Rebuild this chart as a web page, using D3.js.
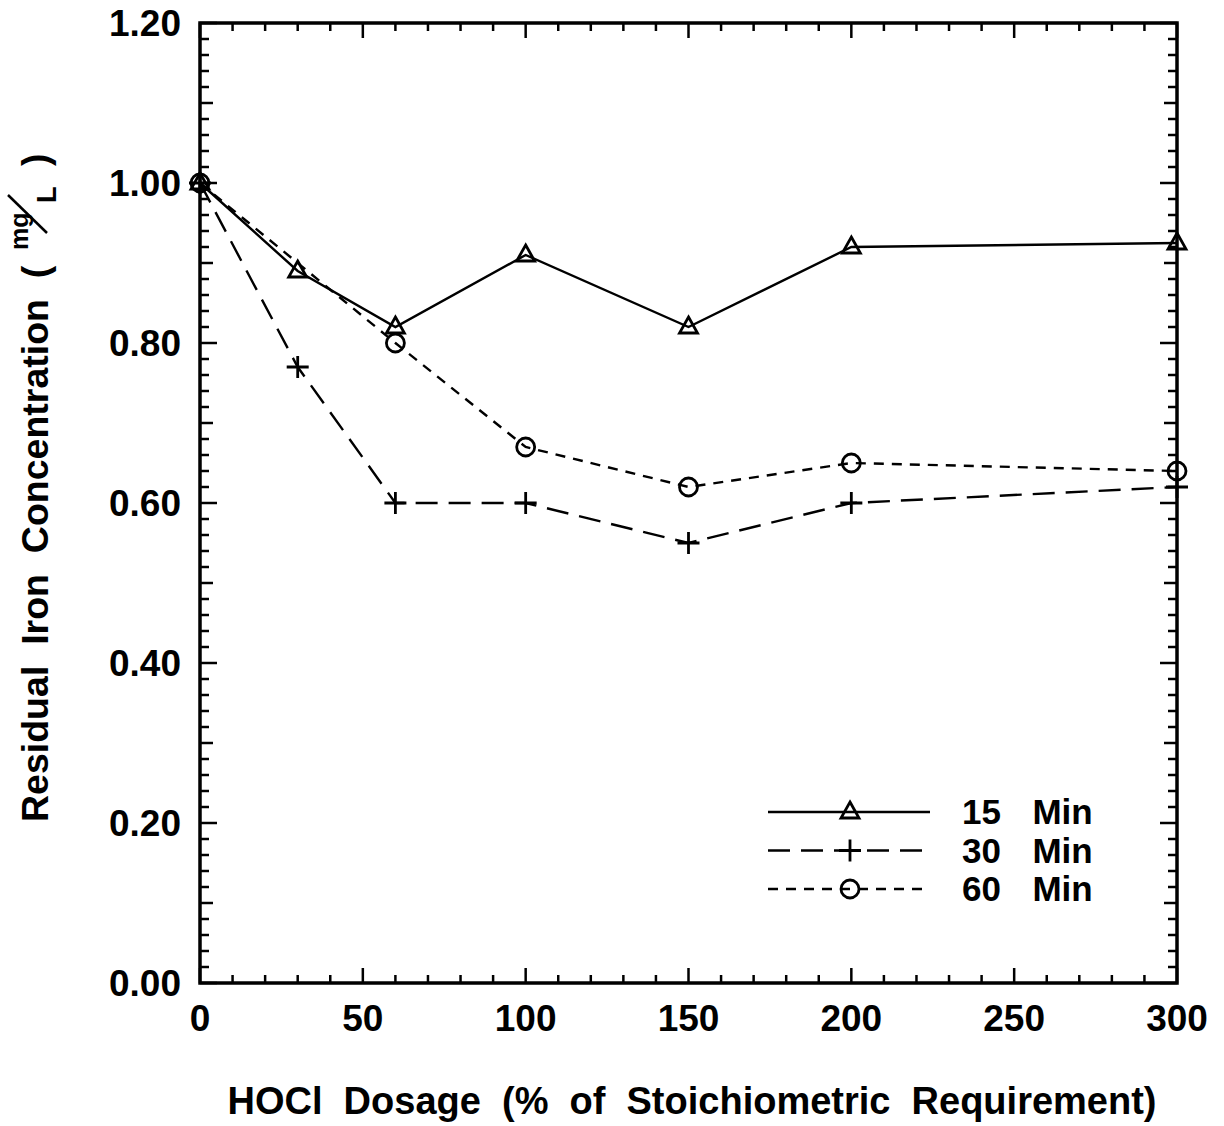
<!DOCTYPE html>
<html>
<head>
<meta charset="utf-8">
<script src="https://cdn.jsdelivr.net/npm/d3@7"></script>
<style>
  body { margin: 0; background: #fff; }
  text { font-family: "Liberation Sans", Arial, Helvetica, sans-serif; font-weight: bold; fill: #000; white-space: pre; }
</style>
</head>
<body>
<svg id="chart" width="1224" height="1126"></svg>
<script>
/* Residual iron vs HOCl dosage */

var dosage15 = [0, 30, 60, 100, 150, 200, 300];
var iron15 = [1.00, 0.89, 0.82, 0.91, 0.82, 0.92, 0.925];

var dosage30 = [0, 30, 60, 100, 150, 200, 300];
var iron30 = [1.00, 0.77, 0.60, 0.60, 0.55, 0.60, 0.62];

var dosage60 = [0, 60, 100, 150, 200, 300];
var iron60 = [1.00, 0.80, 0.67, 0.62, 0.65, 0.64];

var seriesNames = ["15  Min", "30  Min", "60  Min"];
var xTickLabels = [0, 50, 100, 150, 200, 250, 300];
var yTickLabels = [0.00, 0.20, 0.40, 0.60, 0.80, 1.00, 1.20];

function toPoints(xs, ys) {
  return xs.map(function (x, i) { return { x: x, y: ys[i] }; });
}

var series = [
  { name: seriesNames[0], points: toPoints(dosage15, iron15), dash: null, marker: "triangle" },
  { name: seriesNames[1], points: toPoints(dosage30, iron30), dash: "22,11", marker: "plus" },
  { name: seriesNames[2], points: toPoints(dosage60, iron60), dash: "10,8", marker: "circle" }
];

var plotLeft = 200, plotRight = 1177, plotTop = 23, plotBottom = 983;

var svg = d3.select("#chart");

var xScale = d3.scaleLinear().domain([0, 300]).range([plotLeft, plotRight]);
var yScale = d3.scaleLinear().domain([0, 1.2]).range([plotBottom, plotTop]);

var axes = svg.append("g").attr("stroke", "#000").attr("stroke-width", 2.5);

// x ticks, inward on top and bottom
d3.range(0, 301, 10).forEach(function (v) {
  var len = v % 50 === 0 ? 15 : 8;
  axes.append("line").attr("x1", xScale(v)).attr("x2", xScale(v))
    .attr("y1", plotBottom).attr("y2", plotBottom - len);
  axes.append("line").attr("x1", xScale(v)).attr("x2", xScale(v))
    .attr("y1", plotTop).attr("y2", plotTop + len);
});

// y ticks, inward on left and right
d3.range(0, 61, 1).forEach(function (k) {
  var v = k * 0.02;
  var len = k % 10 === 0 ? 17 : (k % 5 === 0 ? 13 : 9);
  axes.append("line").attr("y1", yScale(v)).attr("y2", yScale(v))
    .attr("x1", plotLeft).attr("x2", plotLeft + len);
  axes.append("line").attr("y1", yScale(v)).attr("y2", yScale(v))
    .attr("x1", plotRight).attr("x2", plotRight - len);
});

svg.append("rect")
  .attr("x", plotLeft).attr("y", plotTop)
  .attr("width", plotRight - plotLeft).attr("height", plotBottom - plotTop)
  .attr("fill", "none").attr("stroke", "#000").attr("stroke-width", 3.5);

// tick labels
svg.selectAll(".xlab").data(xTickLabels).enter().append("text")
  .attr("x", function (d) { return xScale(d); })
  .attr("y", 1031)
  .attr("text-anchor", "middle")
  .style("font-size", "37px")
  .text(function (d) { return d; });

svg.selectAll(".ylab").data(yTickLabels).enter().append("text")
  .attr("x", 181)
  .attr("y", function (d) { return yScale(d) + 13; })
  .attr("text-anchor", "end")
  .style("font-size", "37px")
  .text(function (d) { return d.toFixed(2); });

// lines
var line = d3.line()
  .x(function (d) { return xScale(d.x); })
  .y(function (d) { return yScale(d.y); });

function drawMarker(g, type, cx, cy) {
  if (type === "triangle") {
    g.append("path")
      .attr("d", "M" + cx + "," + (cy - 10) + "L" + (cx + 9) + "," + (cy + 6) + "L" + (cx - 9) + "," + (cy + 6) + "Z")
      .attr("fill", "none").attr("stroke", "#000").attr("stroke-width", 2.8);
  } else if (type === "plus") {
    g.append("path")
      .attr("d", "M" + (cx - 11) + "," + cy + "H" + (cx + 11) + "M" + cx + "," + (cy - 11) + "V" + (cy + 11))
      .attr("fill", "none").attr("stroke", "#000").attr("stroke-width", 2.8);
  } else {
    g.append("circle").attr("cx", cx).attr("cy", cy).attr("r", 9)
      .attr("fill", "none").attr("stroke", "#000").attr("stroke-width", 2.8);
  }
}

var plot = svg.append("g");
series.forEach(function (s) {
  plot.append("path")
    .datum(s.points)
    .attr("d", line)
    .attr("fill", "none")
    .attr("stroke", "#000")
    .attr("stroke-width", 2.4)
    .attr("stroke-dasharray", s.dash);
  s.points.forEach(function (p) {
    drawMarker(plot, s.marker, xScale(p.x), yScale(p.y));
  });
});

// legend
var legend = svg.append("g");
series.forEach(function (s, i) {
  var ly = 812 + i * 38.5;
  legend.append("line")
    .attr("x1", 768).attr("x2", 930).attr("y1", ly).attr("y2", ly)
    .attr("stroke", "#000").attr("stroke-width", 2.4)
    .attr("stroke-dasharray", s.dash);
  drawMarker(legend, s.marker, 850, ly);
  legend.append("text")
    .attr("x", 962).attr("y", ly + 12)
    .style("font-size", "35px")
    .style("word-spacing", "6px")
    .text(s.name);
});

// x axis title
svg.append("text")
  .attr("x", 692).attr("y", 1114)
  .attr("text-anchor", "middle")
  .style("font-size", "38px")
  .text("HOCl  Dosage  (%  of  Stoichiometric  Requirement)");

// y axis title
var yt = svg.append("g").attr("transform", "translate(48,0) rotate(-90)");
yt.append("text")
  .attr("x", -822).attr("y", 0)
  .style("font-size", "37.5px")
  .text("Residual  Iron  Concentration  (");
yt.append("text")
  .attr("x", -250).attr("y", -20)
  .style("font-size", "25px")
  .text("mg");
yt.append("text")
  .attr("x", -203).attr("y", 8)
  .style("font-size", "27px")
  .text("L");
yt.append("text")
  .attr("x", -166).attr("y", 0)
  .style("font-size", "37.5px")
  .text(")");
svg.append("line")
  .attr("x1", 8).attr("y1", 195).attr("x2", 47).attr("y2", 233)
  .attr("stroke", "#000").attr("stroke-width", 2.5);
</script>
</body>
</html>
